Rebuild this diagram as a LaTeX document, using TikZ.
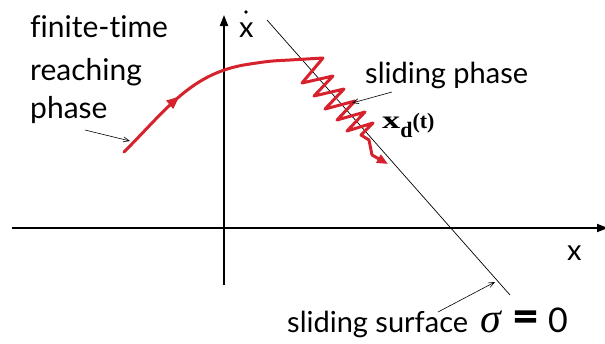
\documentclass[tikz,border=0pt]{standalone}
\usepackage{fontspec}
\setmainfont{Lato}[Ligatures=NoCommon]
\newfontfamily\serifx{Liberation Serif}
\newfontfamily\eqfont[FakeBold=3]{Lato}
\usetikzlibrary{arrows.meta,decorations.markings}
\definecolor{trajred}{RGB}{214,34,44}
\tikzset{
  lbl/.style={anchor=base west,inner sep=0pt,font=\fontsize{29}{29}\selectfont},
  biglbl/.style={lbl,font=\fontsize{30}{30}\selectfont},
  axis/.style={line width=1.8pt,-{Triangle[length=11pt,width=8pt]}},
  pointer/.style={line width=0.6pt,-{Straight Barb[length=6pt,width=5pt]}},
  traj/.style={trajred,line width=3pt,line join=round,line cap=round},
}
\begin{document}
\begin{tikzpicture}[x=1pt,y=-1pt]
\useasboundingbox (0,0) rectangle (605,343);
% axes
\coordinate (yb) at (224,285);
\coordinate (yt) at (224,15);
\coordinate (xl) at (12,228);
\coordinate (xr) at (608,228);
\draw[axis] (yb) -- (yt);
\draw[axis] (xl) -- (xr);
% sliding surface
\coordinate (s1) at (267,20);
\coordinate (s2) at (510,295);
\draw[line width=0.7pt] (s1) -- (s2);
% labels
\node[biglbl] (fin) at (30,37) {finite-time};
\node[biglbl] (rea) at (30,80) {reaching};
\node[biglbl] (pha) at (30,118) {phase};
\node[lbl] (slp) at (365,83) {sliding phase};
\node[lbl] (xdot) at (239,37) {x};
\fill (246,12) circle (1.9);
\node[lbl] (xx) at (567,260) {x};
\node[anchor=base west,inner sep=0pt] (xd) at (382,128)
  {\serifx\bfseries\scalebox{1.45}[1]{\fontsize{25}{25}\selectfont x}\raisebox{-9pt}{\fontsize{22}{22}\selectfont d}{\fontsize{22}{22}\selectfont (t)}};
\node[lbl] (sls) at (287,332) {sliding surface};
\node[anchor=base west,inner sep=0pt] (sig) at (480,332) {\serifx\itshape\fontsize{42}{42}\selectfont σ};
\node[anchor=base west,inner sep=0pt] (eq) at (512,332) {\eqfont\fontsize{46}{46}\selectfont =};
\node[anchor=base west,inner sep=0pt] (zero) at (548,332) {\fontsize{34}{34}\selectfont 0};
% red trajectory
\draw[traj,postaction={decorate},decoration={markings,mark=at position 0.5 with {\arrow{Triangle[length=13pt,width=10pt]}}}]
  (124,152) .. controls (168,108) and (192,72) .. (250,64);
\draw[traj]
  (250,64) .. controls (270,61) .. (290,60) -- (323,58)
  -- (302,83) -- (333,76) -- (314,96) -- (344,89) -- (325,109)
  -- (355,101) -- (337,120) -- (365,112) -- (347,131) -- (373,123)
  -- (361,135) -- (369,140) -- (372,155);
\coordinate (tailA) at (372,155);
\coordinate (tailB) at (388,164);
\draw[traj,-{Triangle[length=11pt,width=9pt]}] (tailA) -- (tailB);
% pointers
\coordinate (p1a) at (85,130);
\coordinate (p1b) at (130,141);
\draw[pointer] (p1a) -- (p1b);
\coordinate (p2a) at (392,92);
\coordinate (p2b) at (352,103);
\draw[pointer] (p2a) -- (p2b);
\coordinate (p3a) at (438,312);
\coordinate (p3b) at (495,282);
\draw[pointer] (p3a) -- (p3b);
\end{tikzpicture}
\end{document}
